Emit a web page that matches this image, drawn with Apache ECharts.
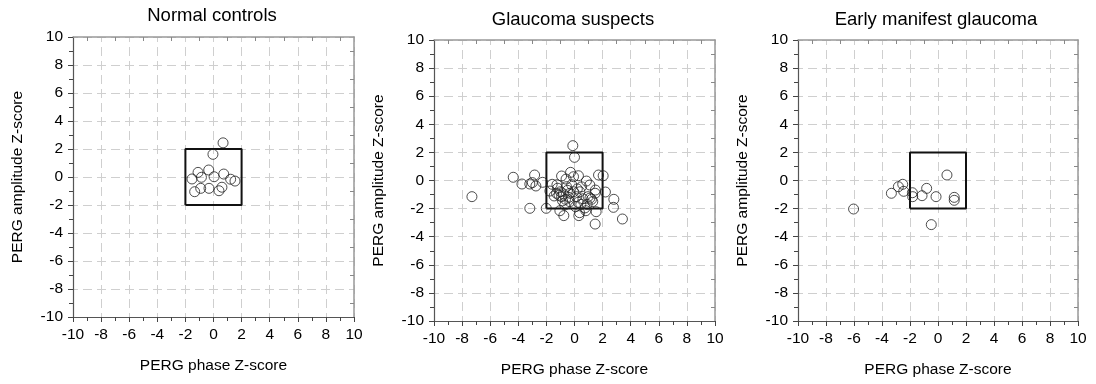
<!DOCTYPE html>
<html>
<head>
<meta charset="utf-8">
<script src="https://cdn.jsdelivr.net/npm/echarts@6/dist/echarts.min.js"></script>
<style>html,body{margin:0;padding:0;background:#fff}#c{width:1096px;height:384px}</style>
</head>
<body>
<div id="c"></div>
<script>
const panelTitles = ['Normal controls', 'Glaucoma suspects', 'Early manifest glaucoma'];
const xAxisName = 'PERG phase Z-score';
const yAxisName = 'PERG amplitude Z-score';
const axisMin = -10, axisMax = 10, axisStep = 2;

const normalControls = [
  [0.68,2.44],[-0.04,1.62],[-0.34,0.50],[-1.10,0.33],[-1.53,-0.14],[-0.86,-0.02],
  [0.04,0.02],[0.73,0.21],[1.22,-0.16],[1.53,-0.29],[-1.34,-1.05],[-0.91,-0.81],
  [-0.32,-0.81],[0.39,-0.98],[0.60,-0.73]
];
const glaucomaSuspects = [
  [-7.3,-1.15],[-4.36,0.23],[-3.74,-0.25],[-3.18,-0.25],[-2.84,0.39],[-2.75,-0.39],
  [-3.0,-0.15],[-2.27,-0.13],[-3.18,-1.98],[-2.01,-1.98],[-0.12,2.48],[0.0,1.65],
  [1.71,0.39],[2.04,0.34],[2.2,-0.82],[2.8,-1.34],[2.77,-1.91],[3.41,-2.74],
  [1.47,-3.1],[1.54,-2.22],[-0.76,-2.5],[-1.04,-2.15],[0.31,-2.5],[0.36,-2.29],
  [0.81,-2.15],[0.75,-1.95],
  [-0.28,0.58],[-0.92,0.32],[0.28,0.34],[-0.07,0.27],[-0.6,0.1],[-1.59,-0.27],
  [-1.75,-0.75],[-1.28,-0.91],[-1.2,-0.55],[-1.45,-1.1],[0.85,-0.04],[1.09,-0.32],
  [1.49,-0.68],[1.47,-0.91],[0.97,-1.15],[1.21,-1.34],[1.1,-1.25],[-0.57,-0.44],
  [-0.33,-0.91],[-0.07,-0.8],[0.14,-1.15],[0.38,-0.8],[-0.64,-1.34],[-0.33,-1.51],
  [0.26,-1.55],[-0.69,-1.74],[0.07,-1.86],[-0.92,-1.15],[-1.0,-0.8],[-0.8,-0.95],
  [-1.1,-1.05],[-0.5,-0.7],[-0.2,-0.3],[0.5,-0.45],[0.6,-1.3],[0.9,-1.7],
  [-0.4,-1.2],[0.2,-0.6],[1.3,-1.5],[-1.25,-0.3],[-0.85,-1.45],[0.45,-1.7]
];
const earlyManifest = [
  [-6.03,-2.03],[-3.33,-0.91],[-2.83,-0.44],[-2.52,-0.27],[-2.45,-0.77],[-1.83,-0.87],
  [-1.81,-1.15],[-1.14,-1.08],[-0.81,-0.56],[-0.14,-1.15],[0.64,0.39],[1.16,-1.20],
  [1.16,-1.41],[-0.48,-3.14]
];
const normalBox = [[-2,-2],[2,-2],[2,2],[-2,2],[-2,-2]];
const panelData = [normalControls, glaucomaSuspects, earlyManifest];

const FONT = 'Liberation Sans, Arial, sans-serif';
const grids = [
  {left: 73, top: 37, width: 281, height: 280},
  {left: 434, top: 40, width: 281, height: 281},
  {left: 798, top: 40, width: 280, height: 281}
];
const titleCenters = [[212, 6], [573, 10], [936, 10]];

const xAxes = [], yAxes = [], series = [];
grids.forEach((g, i) => {
  const common = {
    type: 'value', min: axisMin, max: axisMax, interval: axisStep, gridIndex: i
  };
  const mainAxisStyle = {
    axisLine: {show: true, onZero: false, lineStyle: {color: '#555', width: 1.2}},
    axisTick: {show: true, length: 5, lineStyle: {color: '#444'}},
    minorTick: {show: true, splitNumber: 2, length: 4, lineStyle: {color: '#444'}},
    axisLabel: {fontFamily: FONT, fontSize: 15.5, color: '#000', margin: 10},
    splitLine: {show: true, lineStyle: {color: '#cfcfcf', type: [9, 5], dashOffset: 4}},
    nameLocation: 'middle',
    nameTextStyle: {fontFamily: FONT, fontSize: 15.5, color: '#000'}
  };
  const borderAxisStyle = {
    axisLine: {show: true, onZero: false, lineStyle: {color: '#999', width: 1.5}},
    axisTick: {show: false, inside: true},
    minorTick: {show: true, splitNumber: 2, length: 4, lineStyle: {color: '#888'}},
    axisLabel: {show: false}, splitLine: {show: false}
  };
  xAxes.push(Object.assign({}, common, mainAxisStyle, {position: 'bottom', name: xAxisName, nameGap: 41}));
  xAxes.push(Object.assign({}, common, borderAxisStyle, {position: 'top'}));
  yAxes.push(Object.assign({}, common, mainAxisStyle, {position: 'left', name: yAxisName, nameGap: 47}));
  yAxes.push(Object.assign({}, common, borderAxisStyle, {position: 'right'}));
  series.push({
    type: 'line', xAxisIndex: 2 * i, yAxisIndex: 2 * i, data: normalBox,
    symbol: 'none', lineStyle: {color: '#111', width: 2}, z: 3, silent: true
  });
  series.push({
    type: 'scatter', xAxisIndex: 2 * i, yAxisIndex: 2 * i, data: panelData[i],
    symbol: 'circle', symbolSize: 10,
    itemStyle: {color: 'rgba(255,255,255,0)', borderColor: '#222', borderWidth: 1}, z: 4
  });
});

const chart = echarts.init(document.getElementById('c'), null, {renderer: 'canvas'});
chart.setOption({
  animation: false,
  backgroundColor: '#fff',
  title: panelTitles.map((t, i) => ({
    text: t, left: titleCenters[i][0], top: titleCenters[i][1], textAlign: 'center', padding: 0,
    textStyle: {fontFamily: FONT, fontSize: 18.5, fontWeight: 'normal', color: '#000'}
  })),
  grid: grids,
  xAxis: xAxes,
  yAxis: yAxes,
  series: series
});
</script>
</body>
</html>
